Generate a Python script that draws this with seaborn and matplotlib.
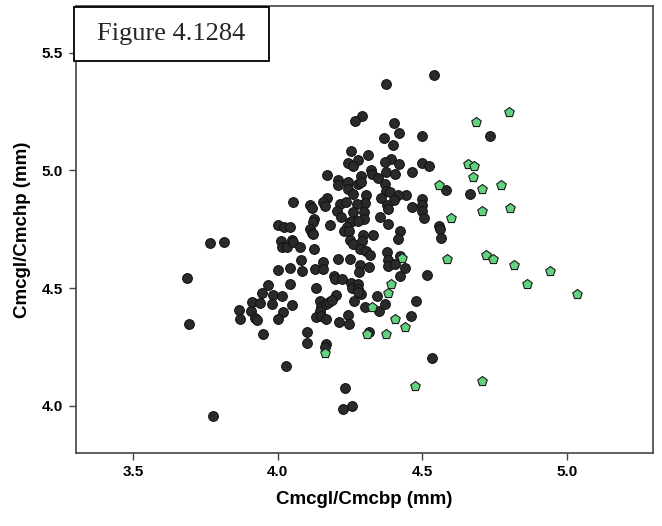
import matplotlib
matplotlib.use("Agg")
import matplotlib.pyplot as plt
import seaborn as sns
import pandas as pd
from matplotlib.patches import Rectangle

# ---- data ----
black_x = [4.542, 4.374, 4.292, 4.267, 4.401, 4.419, 4.369, 4.499, 4.733, 4.398,
           4.253, 4.314, 4.279, 4.244, 4.262, 4.391, 4.370, 4.419, 4.498, 4.524,
           4.374, 4.322, 4.325, 4.404, 4.465, 4.289, 4.347, 4.172, 4.209, 4.207,
           4.244, 4.279, 4.289, 4.244, 4.260, 4.371, 4.376, 4.388, 4.443, 4.416,
           4.403, 4.581, 4.667, 4.498, 4.498, 4.499, 4.507, 4.464, 4.170, 4.157,
           4.163, 4.216, 4.237, 4.305, 4.302, 4.273, 4.358, 4.379, 4.381, 4.113,
           4.119, 4.053, 4.206, 4.261, 4.219, 4.300, 4.300, 4.354, 4.125, 4.122,
           4.182, 4.250, 4.258, 4.238, 4.228, 4.247, 4.278, 4.382, 4.423, 4.417,
           4.559, 4.562, 4.565, 4.001, 4.021, 4.044, 4.112, 4.117, 4.123, 4.250,
           4.262, 4.294, 4.293, 4.329, 4.286, 4.305, 4.320, 4.379, 4.010, 4.013,
           4.032, 4.048, 4.054, 4.076, 4.126, 3.765, 3.814, 4.082, 4.084, 4.001,
           4.044, 4.129, 4.157, 4.157, 4.210, 4.249, 4.286, 4.282, 4.316, 4.382,
           4.382, 4.404, 4.422, 4.441, 4.423, 4.518, 4.195, 4.198, 4.223, 4.253,
           4.256, 4.276, 4.278, 4.044, 3.965, 4.132, 3.687, 3.946, 3.985, 4.013,
           3.979, 4.050, 3.910, 3.937, 3.866, 3.869, 3.909, 3.921, 3.927, 4.019,
           4.001, 4.147, 4.148, 4.167, 4.176, 4.200, 4.187, 4.264, 4.289, 4.278,
           4.302, 4.343, 4.349, 4.372, 4.477, 4.145, 4.131, 4.149, 4.167, 4.213,
           4.242, 4.247, 4.460, 3.694, 3.948, 4.101, 4.101, 4.166, 4.165, 4.316,
           4.535, 4.029, 4.231, 4.225, 4.258, 3.777]
black_y = [5.406, 5.367, 5.230, 5.212, 5.203, 5.158, 5.138, 5.145, 5.147, 5.110,
           5.082, 5.065, 5.045, 5.030, 5.020, 5.047, 5.034, 5.027, 5.030, 5.020,
           4.992, 5.004, 4.983, 4.983, 4.992, 4.976, 4.968, 4.979, 4.958, 4.937,
           4.953, 4.942, 4.951, 4.920, 4.901, 4.941, 4.913, 4.907, 4.898, 4.896,
           4.873, 4.918, 4.901, 4.880, 4.853, 4.828, 4.797, 4.846, 4.884, 4.866,
           4.849, 4.859, 4.865, 4.894, 4.863, 4.859, 4.883, 4.852, 4.838, 4.853,
           4.841, 4.865, 4.828, 4.822, 4.803, 4.822, 4.793, 4.803, 4.795, 4.783,
           4.770, 4.780, 4.785, 4.760, 4.745, 4.743, 4.786, 4.774, 4.743, 4.711,
           4.766, 4.752, 4.715, 4.770, 4.762, 4.762, 4.750, 4.733, 4.729, 4.704,
           4.686, 4.726, 4.701, 4.725, 4.666, 4.656, 4.639, 4.654, 4.701, 4.677,
           4.674, 4.705, 4.697, 4.673, 4.666, 4.694, 4.695, 4.619, 4.575, 4.578,
           4.584, 4.580, 4.612, 4.583, 4.623, 4.626, 4.598, 4.567, 4.588, 4.619,
           4.595, 4.602, 4.637, 4.584, 4.550, 4.554, 4.551, 4.537, 4.540, 4.520,
           4.501, 4.519, 4.495, 4.518, 4.515, 4.501, 4.542, 4.480, 4.473, 4.465,
           4.433, 4.430, 4.443, 4.439, 4.409, 4.370, 4.403, 4.375, 4.367, 4.401,
           4.370, 4.447, 4.422, 4.433, 4.441, 4.471, 4.450, 4.447, 4.475, 4.483,
           4.422, 4.467, 4.402, 4.434, 4.447, 4.405, 4.379, 4.383, 4.368, 4.357,
           4.385, 4.350, 4.384, 4.348, 4.306, 4.313, 4.269, 4.262, 4.250, 4.316,
           4.205, 4.171, 4.078, 3.986, 4.001, 3.958]

green_x = [4.799, 4.686, 4.658, 4.678, 4.675, 4.557, 4.706, 4.774, 4.706, 4.805,
           4.598, 4.584, 4.429, 4.721, 4.745, 4.819, 4.941, 4.863, 5.034, 4.392,
           4.381, 4.325, 4.404, 4.442, 4.308, 4.376, 4.163, 4.474, 4.708]
green_y = [5.247, 5.207, 5.027, 5.020, 4.973, 4.937, 4.920, 4.939, 4.827, 4.842,
           4.797, 4.623, 4.630, 4.642, 4.622, 4.599, 4.575, 4.516, 4.475, 4.519,
           4.481, 4.422, 4.368, 4.336, 4.305, 4.305, 4.224, 4.085, 4.104]

x_ticks = [3.5, 4.0, 4.5, 5.0]
y_ticks = [4.0, 4.5, 5.0, 5.5]
x_label = "Cmcgl/Cmcbp (mm)"
y_label = "Cmcgl/Cmchp (mm)"
title_text = "Figure 4.1284"

df = pd.DataFrame({
    "x": black_x + green_x,
    "y": black_y + green_y,
    "group": ["a"] * len(black_x) + ["b"] * len(green_x),
})

sns.set_style("white")
plt.rcParams["font.family"] = ["Liberation Sans", "DejaVu Sans"]

W, H = 662, 526
fig = plt.figure(figsize=(W / 100, H / 100), dpi=100)
ax = fig.add_axes([75.5 / W, 1 - 453 / H, (653.4 - 75.5) / W, (453 - 5.7) / H])

sns.scatterplot(data=df[df.group == "a"], x="x", y="y", ax=ax, marker="o",
                s=50, color="#2a2a2a", edgecolor="#111111", linewidth=0.7,
                legend=False, zorder=3)
sns.scatterplot(data=df[df.group == "b"], x="x", y="y", ax=ax, marker="p",
                s=52, color="#62d27f", edgecolor="#1a1a1a", linewidth=0.8,
                legend=False, zorder=4)

ax.set_xlim(3.3, 5.3)
ax.set_ylim(3.8, 5.7)
ax.set_xticks(x_ticks)
ax.set_yticks(y_ticks)
ax.set_xticklabels([f"{v:.1f}" for v in x_ticks], fontsize=11, fontweight="bold", color="black")
ax.set_yticklabels([f"{v:.1f}" for v in y_ticks], fontsize=11, fontweight="bold", color="black")
ax.tick_params(axis="both", which="major", direction="out", length=5, width=1,
               color="#444444", pad=4, bottom=True, left=True, top=False, right=False)
ax.set_xlabel(x_label, fontsize=13.5, fontweight="bold", labelpad=8, color="black")
ax.set_ylabel(y_label, fontsize=13.5, fontweight="bold", labelpad=8, color="black")
for sp in ax.spines.values():
    sp.set_visible(True)
    sp.set_color("#444444")
    sp.set_linewidth(1.2)

# annotation box
rect = Rectangle((74 / W, 1 - 61 / H), (269 - 74) / W, (61 - 7) / H,
                 transform=fig.transFigure, facecolor="white", edgecolor="black",
                 linewidth=1.3, zorder=10)
fig.add_artist(rect)
fig.text((74 + 269) / 2 / W, 1 - 34 / H, title_text, ha="center", va="center",
         fontsize=19, family=["Liberation Serif", "DejaVu Serif"], zorder=11)

fig.savefig("out.png", dpi=100)
